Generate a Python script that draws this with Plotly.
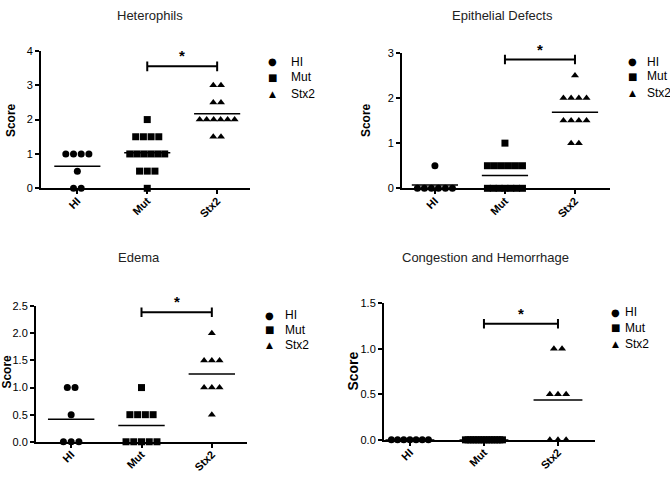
import plotly.graph_objects as go

W, H = 670, 478

groups = ["HI", "Mut", "Stx2"]

# Heterophils scores
het_hi = [1, 1, 1, 1, 0.5, 0, 0]
het_mut = [2, 1.5, 1.5, 1.5, 1.5, 1, 1, 1, 1, 1, 1, 0.5, 0.5, 0.5, 0]
het_stx2 = [3, 3, 2.5, 2.5, 2, 2, 2, 2, 2, 2, 1.5, 1.5]

# Epithelial Defects scores
epi_hi = [0.5, 0, 0, 0, 0, 0, 0]
epi_mut = [1, 0.5, 0.5, 0.5, 0.5, 0.5, 0.5, 0, 0, 0, 0, 0, 0, 0]
epi_stx2 = [2.5, 2, 2, 2, 2, 1.5, 1.5, 1.5, 1.5, 1, 1]

# Edema scores
ede_hi = [1, 1, 0.5, 0, 0, 0]
ede_mut = [1, 0.5, 0.5, 0.5, 0.5, 0, 0, 0, 0, 0]
ede_stx2 = [2, 1.5, 1.5, 1.5, 1, 1, 1, 0.5]

# Congestion and Hemorrhage scores
con_hi = [0, 0, 0, 0, 0, 0, 0]
con_mut = [0, 0, 0, 0, 0, 0, 0, 0, 0, 0, 0, 0, 0, 0, 0]
con_stx2 = [1, 1, 0.5, 0.5, 0.5, 0, 0, 0]

titles = ["Heterophils", "Epithelial Defects", "Edema", "Congestion and Hemorrhage"]
panel_data = [
    [het_hi, het_mut, het_stx2],
    [epi_hi, epi_mut, epi_stx2],
    [ede_hi, ede_mut, ede_stx2],
    [con_hi, con_mut, con_stx2],
]
y_max = [4, 3, 2.5, 1.5]
y_dtick = [1, 1, 0.5, 0.5]
sig_y = [3.55, 2.85, 2.39, 1.275]

# layout in pixels: axes box, x range, legend (symbol x, text x, row ys), score label, title
boxes = [
    dict(x0=41, x1=250, ytop=46, ybot=187, xr=[-0.52, 2.47],
         leg=(272, 289, [57, 73, 90]), score=(11, 117, 12), tit=(150, 10)),
    dict(x0=402, x1=610, ytop=48, ybot=187, xr=[-0.47, 2.5],
         leg=(632, 645, [57, 72, 89]), score=(366, 117, 12), tit=(502, 10)),
    dict(x0=36, x1=247, ytop=308, ybot=447, xr=[-0.5, 2.5],
         leg=(269, 283, [317, 332, 348]), score=(7, 375, 12), tit=(139, 258)),
    dict(x0=384, x1=595, ytop=305, ybot=445, xr=[-0.35, 2.5],
         leg=(615, 623, [314, 330, 347]), score=(353, 375, 14), tit=(485, 258)),
]

symbols = ["circle", "square", "triangle-up"]
glyphs = ["\u25cf", "\u25a0", "\u25b2"]
font = "Liberation Sans, Arial, sans-serif"


def spread(vals, center):
    # side-by-side placement of equal values, like a column scatter
    xs = [0.0] * len(vals)
    seen = {}
    for i, v in enumerate(vals):
        seen.setdefault(v, []).append(i)
    for v, idx in seen.items():
        k = len(idx)
        step = 0.11 if k < 2 else min(0.11, 0.5 / (k - 1))
        for j, i in enumerate(idx):
            xs[i] = center + (j - (k - 1) / 2) * step
    return xs


fig = go.Figure()
shapes = []
annotations = []

for p in range(4):
    b = boxes[p]
    n = "" if p == 0 else str(p + 1)
    xa, ya = "x" + n, "y" + n
    for g in range(3):
        vals = panel_data[p][g]
        fig.add_trace(go.Scatter(
            x=spread(vals, g), y=vals, mode="markers", name=groups[g],
            marker=dict(symbol=symbols[g], size=7, color="black"),
            xaxis=xa, yaxis=ya, cliponaxis=False, showlegend=False,
        ))
        m = sum(vals) / len(vals)
        shapes.append(dict(type="line", xref=xa, yref=ya, x0=g - 0.33, x1=g + 0.33,
                           y0=m, y1=m, line=dict(color="black", width=1.5)))
        # legend key + label
        lx, tx, rows = b["leg"]
        annotations.append(dict(text=glyphs[g], xref="paper", yref="paper", x=lx / W,
                                y=1 - rows[g] / H, xanchor="center", yanchor="middle", showarrow=False,
                                font=dict(size=10 if g < 2 else 9, color="black", family="DejaVu Sans")))
        annotations.append(dict(text=groups[g], xref="paper", yref="paper", x=tx / W,
                                y=1 - rows[g] / H, xanchor="left", yanchor="middle", showarrow=False,
                                font=dict(size=12, color="black", family=font)))
    # significance bracket Mut vs Stx2
    sy = sig_y[p]
    cap = y_max[p] * 0.035
    shapes.append(dict(type="line", xref=xa, yref=ya, x0=1, x1=2, y0=sy, y1=sy,
                       line=dict(color="black", width=2)))
    for cx in [1, 2]:
        shapes.append(dict(type="line", xref=xa, yref=ya, x0=cx, x1=cx, y0=sy - cap, y1=sy + cap,
                           line=dict(color="black", width=2)))
    annotations.append(dict(text="<b>*</b>", xref=xa, yref=ya, x=1.5, y=sy, yanchor="bottom",
                            showarrow=False, font=dict(size=15, color="black", family=font)))
    annotations.append(dict(text=titles[p], xref="paper", yref="paper", x=b["tit"][0] / W,
                            y=1 - b["tit"][1] / H, showarrow=False, xanchor="center", yanchor="middle",
                            font=dict(size=13, color="#222", family=font)))
    annotations.append(dict(text="<b>Score</b>", xref="paper", yref="paper", x=b["score"][0] / W,
                            y=1 - b["score"][1] / H, showarrow=False, textangle=-90,
                            xanchor="center", yanchor="middle",
                            font=dict(size=b["score"][2], color="black", family=font)))

    fig.layout["xaxis" + n] = dict(
        domain=[b["x0"] / W, b["x1"] / W], range=b["xr"], anchor=ya,
        tickmode="array", tickvals=[0, 1, 2], ticktext=["<b>%s</b>" % s for s in groups],
        tickangle=-45, ticks="outside", ticklen=4, tickwidth=2, tickcolor="black",
        showline=True, linecolor="black", linewidth=2, showgrid=False, zeroline=False,
        tickfont=dict(size=11, color="black", family=font), fixedrange=True,
        ticklabelstandoff=-4,
    )
    fig.layout["yaxis" + n] = dict(
        domain=[1 - b["ybot"] / H, 1 - b["ytop"] / H], range=[0, y_max[p]], anchor=xa,
        dtick=y_dtick[p], tick0=0, tickformat=".1f" if y_dtick[p] < 1 else "d",
        ticks="outside", ticklen=4, tickwidth=2, tickcolor="black",
        showline=True, linecolor="black", linewidth=2, showgrid=False, zeroline=False,
        tickfont=dict(size=11, color="black", family=font), fixedrange=True,
    )

fig.update_layout(
    width=W, height=H, margin=dict(l=0, r=0, t=0, b=0),
    paper_bgcolor="white", plot_bgcolor="white",
    shapes=shapes, annotations=annotations, showlegend=False,
    font=dict(family=font),
)

# page body has a default 8px margin; drop it so the figure fills the window
fig.write_html("out.html", config={"displayModeBar": False},
               post_script="document.body.style.margin='0';")
